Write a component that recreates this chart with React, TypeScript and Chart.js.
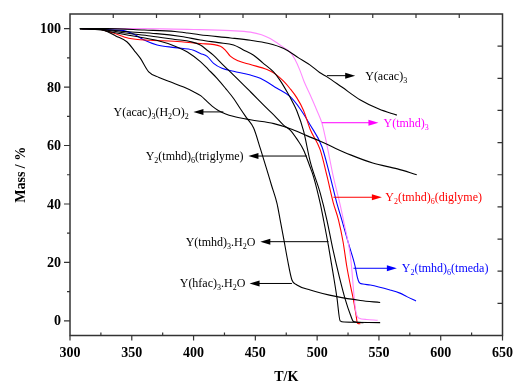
import { useEffect, useRef } from 'react';
import { Chart, registerables } from 'chart.js';

Chart.register(...registerables);

// ---------- data (T/K, Mass %) ----------
const acac3: number[][] = [[308,100],[330,100],[360,99.5],[385,99],[395,98.5],[405,97.9],[430,96.8],[446,96],[460,95],[473,93.2],[485,90],[494.4,87.5],[502,85],[508,83.5],[520,80],[535,75.6],[550,72.5],[564.5,70.4]];
const acac3H2O2: number[][] = [[308,100],[322,100],[330,99],[337,97.5],[346,95.5],[352,92.5],[357,89.8],[363.7,85.2],[372,83.3],[381,81.8],[392,80],[400,78.4],[406,77],[411,75],[415,73.5],[420,72],[426,70.8],[432,70],[446,68.8],[465,67.5],[480,65.5],[492,63.3],[502.5,61.5],[515,59],[527,56.8],[545,54],[565,52],[580.6,50]];
const triglyme: number[][] = [[308,100],[325,99.8],[345,99],[370,98.3],[390,97.3],[405.5,96.1],[420,95.2],[432.4,94.4],[440,92.8],[448.6,90.9],[456,88.3],[464.7,85.2],[470,82.3],[475.6,78.4],[480,75],[483.6,71.8],[489,65],[494.4,54.5],[502.5,43.7],[507.9,34.5],[513,24],[518,15],[523,7],[527,2],[529.4,-0.2],[537.5,-0.6]];
const tmhd3H2O: number[][] = [[308,100],[325,99.7],[345,98.5],[365,97.5],[385,96.3],[398,95.5],[405.5,94.4],[411,92.6],[416,90.9],[424,87.5],[432.4,84.1],[446,78.4],[459.4,72.7],[466,70],[472.8,67],[478.2,65.3],[484,62],[489,58.5],[494,53],[497.1,49.3],[502.5,40.2],[505.2,34.5],[509,26],[513,16],[516,8],[518.6,0],[522,-0.4],[551,-0.6]];
const hfac3H2O: number[][] = [[308,100],[325,99.5],[340,98.3],[355,97.2],[370,96],[385,94],[395,92],[405.5,88.7],[412,86],[419,83],[426,79.5],[432.4,76.1],[438,72.5],[443.2,69.3],[448.6,66],[454,59],[459.4,51.6],[463,46.5],[467.5,40.2],[470.1,34.5],[473,28],[476,21],[479.6,14],[483.6,12.3],[494.4,10.6],[516,8.3],[535,7],[551,6.3]];
const tmhd3: number[][] = [[310,100],[360,100],[400,99.7],[430,99.3],[446,98.8],[455,97.9],[462,96.6],[468,95],[473,93.5],[478,92],[482,89.5],[486,85.8],[489.5,81.8],[494.4,77.3],[499.8,72],[504,67.5],[508,60],[513,49.5],[519,39],[522,33],[527,22],[531,4],[533.5,1],[540,0.5],[549,0.2]];
const diglyme: number[][] = [[310,100],[324.6,99.7],[335,98.5],[347.5,96.7],[365,96],[384,95.7],[405.5,94.9],[421.7,94],[426,92.5],[429.7,90.6],[436,89],[446,87.7],[459.4,86],[466,84.5],[472.8,82],[478,79.5],[483.6,76.3],[489,72],[494.4,65.5],[502.5,58.5],[508,49.5],[513,40.5],[517.3,34.5],[521,27],[524,18.6],[527,12],[529.4,7.2],[531.5,2],[532.6,-0.8],[535,-1]];
const tmeda: number[][] = [[310,100],[325,99.7],[343.5,99.3],[352,98],[360,96.1],[370.5,94.4],[385,93.5],[400,92.6],[405.5,91.5],[411,90.5],[416.2,88.1],[423,86.4],[432.4,85.4],[446,84.1],[454,83],[467.5,79.6],[478.2,76.7],[486.3,72.5],[494.4,67],[503.9,59.6],[510.6,49.3],[516,40.2],[520,34.5],[525,27],[530.8,18.6],[532.5,15],[534,13.2],[537,12.6],[543,12.3],[559,10.6],[567,9.5],[572.6,8.3],[580,6.8]];

const xTicks = [300, 350, 400, 450, 500, 550, 600, 650];
const yTicks = [0, 20, 40, 60, 80, 100];
const xMinor = [325, 375, 425, 475, 525, 575, 625];
const yMinor = [10, 30, 50, 70, 90];
const topTicks = [335, 370, 405, 440, 475, 510, 545, 580, 615];
const rightTicks = [6, 17, 28, 39, 50, 61, 72, 83, 94];

// annotations: text ("_" marks a subscript char), mass level, arrow start T, arrow tip T, text anchor T
const annTexts = ['Y(acac)_3', 'Y(tmhd)_3', 'Y_2(tmhd)_6(diglyme)', 'Y_2(tmhd)_6(tmeda)', 'Y(acac)_3(H_2O)_2', 'Y_2(tmhd)_6(triglyme)', 'Y(tmhd)_3.H_2O', 'Y(hfac)_3.H_2O'];
const annMass = [83.9, 67.8, 42.3, 18, 71.5, 56.4, 27.1, 12.8];
const annFrom = [507.9, 503.9, 513.2, 529.4, 424.1, 491.7, 509.2, 479.6];
const annTip = [530.8, 549.6, 552.4, 564.5, 399.9, 444.4, 454, 445.3];
const annTextT = [538.9, 553.7, 555.2, 568.5, 396.1, 440.5, 450, 441.9];
const annColors = ['#000000', '#ff00ff', '#ff0000', '#0000ff', '#000000', '#000000', '#000000', '#000000'];

const SERIF = "'Liberation Serif', 'Times New Roman', serif";

function parseSegs(s: string) {
  const segs: { t: string; sub: boolean }[] = [];
  for (let i = 0; i < s.length; i++) {
    if (s[i] === '_' && i + 1 < s.length) {
      segs.push({ t: s[i + 1], sub: true });
      i++;
    } else {
      const last = segs[segs.length - 1];
      if (last && !last.sub) last.t += s[i];
      else segs.push({ t: s[i], sub: false });
    }
  }
  return segs;
}

function drawRich(ctx: CanvasRenderingContext2D, s: string, x: number, yMid: number, align: 'left' | 'right', color: string) {
  const segs = parseSegs(s);
  const mainFont = `12px ${SERIF}`;
  const subFont = `8px ${SERIF}`;
  let w = 0;
  for (const sg of segs) {
    ctx.font = sg.sub ? subFont : mainFont;
    w += ctx.measureText(sg.t).width;
  }
  let cx = align === 'left' ? x : x - w;
  const base = yMid + 4;
  ctx.fillStyle = color;
  ctx.textAlign = 'left';
  ctx.textBaseline = 'alphabetic';
  for (const sg of segs) {
    ctx.font = sg.sub ? subFont : mainFont;
    ctx.fillText(sg.t, cx, sg.sub ? base + 3 : base);
    cx += ctx.measureText(sg.t).width;
  }
}

const axesPlugin = {
  id: 'originAxes',
  afterDatasetsDraw(chart: any) {
    const ctx: CanvasRenderingContext2D = chart.ctx;
    const { left, right, top, bottom } = chart.chartArea;
    const xs = chart.scales.x;
    const ys = chart.scales.y;
    ctx.save();
    // annotations
    for (let i = 0; i < annTexts.length; i++) {
      const y = ys.getPixelForValue(annMass[i]);
      const x0 = xs.getPixelForValue(annFrom[i]);
      const x1 = xs.getPixelForValue(annTip[i]);
      const dir = x1 > x0 ? 1 : -1;
      ctx.strokeStyle = annColors[i];
      ctx.fillStyle = annColors[i];
      ctx.lineWidth = 1;
      ctx.beginPath();
      ctx.moveTo(x0, y);
      ctx.lineTo(x1 - dir * 6, y);
      ctx.stroke();
      ctx.beginPath();
      ctx.moveTo(x1, y);
      ctx.lineTo(x1 - dir * 10, y - 3);
      ctx.lineTo(x1 - dir * 10, y + 3);
      ctx.closePath();
      ctx.fill();
      const tx = xs.getPixelForValue(annTextT[i]);
      drawRich(ctx, annTexts[i], tx, y, dir > 0 ? 'left' : 'right', annColors[i]);
    }
    // frame
    ctx.strokeStyle = '#333333';
    ctx.lineWidth = 1.5;
    ctx.strokeRect(left, top, right - left, bottom - top);
    ctx.lineWidth = 1.2;
    ctx.beginPath();
    for (const v of xTicks) {
      const x = xs.getPixelForValue(v);
      ctx.moveTo(x, bottom);
      ctx.lineTo(x, bottom + 5);
    }
    for (const v of xMinor) {
      const x = xs.getPixelForValue(v);
      ctx.moveTo(x, bottom);
      ctx.lineTo(x, bottom - 3);
    }
    for (const v of yTicks) {
      const y = ys.getPixelForValue(v);
      ctx.moveTo(left, y);
      ctx.lineTo(left - 6, y);
    }
    for (const v of yMinor) {
      const y = ys.getPixelForValue(v);
      ctx.moveTo(left, y);
      ctx.lineTo(left - 3, y);
    }
    for (const v of topTicks) {
      const x = xs.getPixelForValue(v);
      ctx.moveTo(x, top);
      ctx.lineTo(x, top + 4);
    }
    for (const v of rightTicks) {
      const y = ys.getPixelForValue(v);
      ctx.moveTo(right, y);
      ctx.lineTo(right - 5, y);
    }
    ctx.stroke();
    // tick labels
    ctx.fillStyle = '#000';
    ctx.font = `bold 14px ${SERIF}`;
    ctx.textAlign = 'center';
    ctx.textBaseline = 'middle';
    for (const v of xTicks) {
      ctx.fillText(String(v), xs.getPixelForValue(v), bottom + 18);
    }
    ctx.textAlign = 'right';
    for (const v of yTicks) {
      ctx.fillText(String(v), left - 9, ys.getPixelForValue(v) + 1);
    }
    // axis titles
    ctx.font = `bold 14px ${SERIF}`;
    ctx.textAlign = 'center';
    ctx.fillText('T/K', (left + right) / 2, bottom + 42);
    ctx.save();
    ctx.translate(21, (top + bottom) / 2);
    ctx.rotate(-Math.PI / 2);
    ctx.fillText('Mass / %', 0, 0);
    ctx.restore();
    ctx.restore();
  },
};

export default function App() {
  const ref = useRef<HTMLCanvasElement | null>(null);
  useEffect(() => {
    if (!ref.current) return;
    const mk = (data: number[][], color: string) => ({
      data: data.map(([x, y]) => ({ x, y })),
      borderColor: color,
      backgroundColor: color,
      borderWidth: 1.1,
      pointRadius: 0,
      showLine: true,
      fill: false,
      cubicInterpolationMode: 'monotone' as const,
    });
    const chart = new Chart(ref.current, {
      type: 'scatter',
      data: {
        datasets: [
          mk(acac3, '#000000'),
          mk(acac3H2O2, '#000000'),
          mk(triglyme, '#000000'),
          mk(tmhd3H2O, '#000000'),
          mk(hfac3H2O, '#000000'),
          mk(tmhd3, '#ff88ff'),
          mk(diglyme, '#ff0000'),
          mk(tmeda, '#0000ff'),
        ],
      },
      options: {
        animation: false,
        responsive: false,
        maintainAspectRatio: false,
        layout: { padding: { left: 70, right: 10.5, top: 14, bottom: 48.5 } },
        plugins: { legend: { display: false }, tooltip: { enabled: false } },
        scales: {
          x: { type: 'linear', min: 300, max: 650, display: false },
          y: { type: 'linear', min: -5, max: 105, display: false },
        },
      },
      plugins: [axesPlugin],
    });
    return () => chart.destroy();
  }, []);
  return (
    <div style={{ position: 'fixed', left: 0, top: 0, width: 513, height: 384, background: '#fff' }}>
      <canvas ref={ref} width={513} height={384} style={{ width: 513, height: 384 }} />
    </div>
  );
}
